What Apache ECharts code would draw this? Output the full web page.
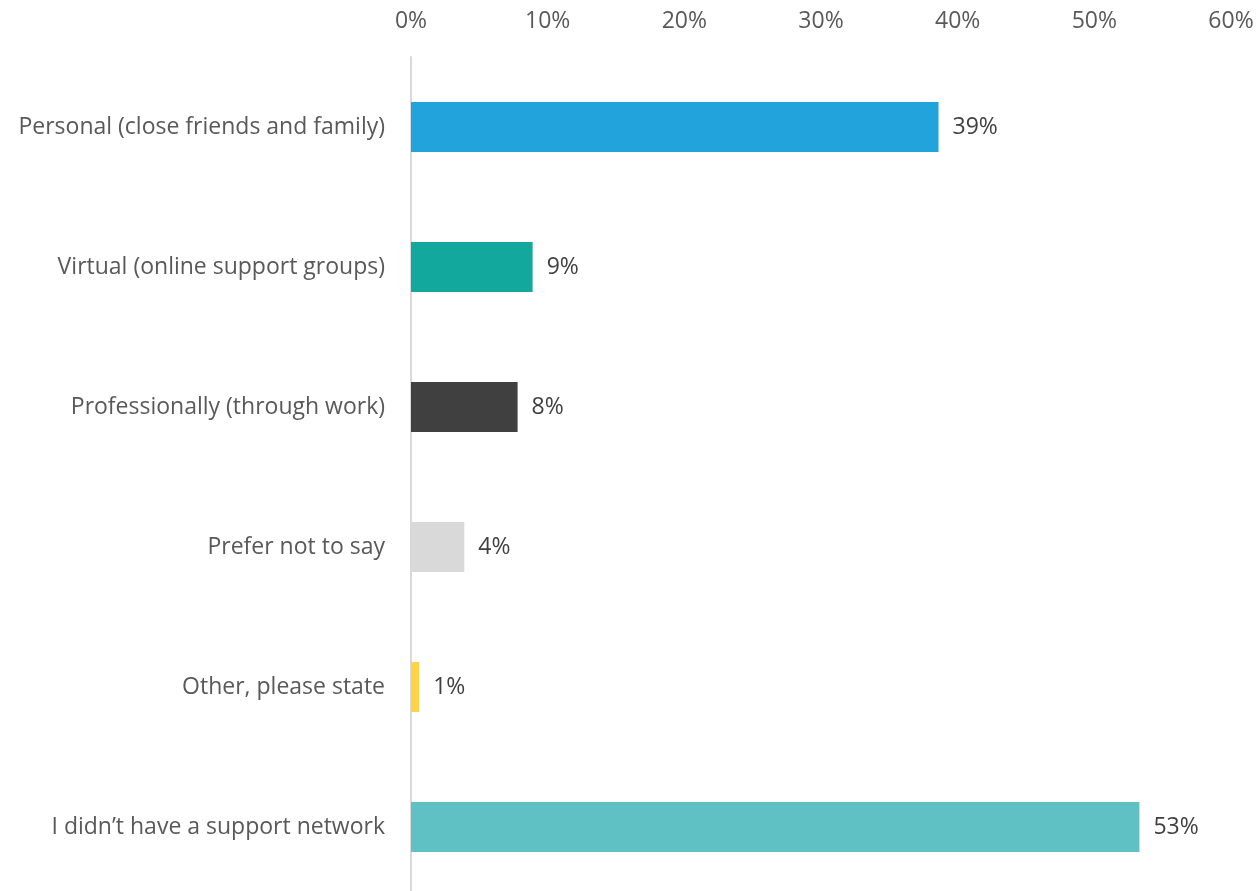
<!DOCTYPE html>
<html><head><meta charset="utf-8">
<script src="https://cdn.jsdelivr.net/npm/echarts@6/dist/echarts.min.js"></script>
<style>html,body{margin:0;padding:0;background:#fff;overflow:hidden}#c{width:1258px;height:897px}</style>
</head><body><div id="c"></div>
<script>
const categories = ["Personal (close friends and family)", "Virtual (online support groups)", "Professionally (through work)", "Prefer not to say", "Other, please state", "I didn\u2019t have a support network"];
const values = [38.6, 8.9, 7.8, 3.9, 0.6, 53.3];
const colors = ["#22A3DB", "#12A89D", "#404040", "#D9D9D9", "#FFD347", "#5FC1C4"];
const xTicks = [0, 10, 20, 30, 40, 50, 60];

const FONT = 'Open Sans';
const chart = echarts.init(document.getElementById('c'), null, {renderer: 'canvas'});
chart.setOption({
  animation: false,
  textStyle: {fontFamily: FONT},
  grid: {left: 411, width: 820, top: 57, bottom: 0, containLabel: false},
  xAxis: {
    type: 'value', position: 'top', min: xTicks[0], max: xTicks[xTicks.length-1], interval: 10,
    axisLine: {show: false}, axisTick: {show: false}, splitLine: {show: false},
    axisLabel: {color: '#595959', fontSize: 23, fontFamily: FONT, margin: 24, formatter: v => v + '%'}
  },
  yAxis: {
    type: 'category', data: categories, inverse: true,
    axisLine: {show: true, lineStyle: {color: '#D9D9D9', width: 2}},
    axisTick: {show: false},
    axisLabel: {color: '#595959', fontSize: 23, fontFamily: FONT, margin: 26}
  },
  series: [{
    type: 'bar', barWidth: 50,
    data: values.map((v, i) => ({value: v, itemStyle: {color: colors[i]}})),
    label: {show: true, position: 'right', distance: 14, color: '#404040', fontSize: 23, fontFamily: FONT,
      formatter: p => Math.round(p.value) + '%'}
  }]
});
</script></body></html>
